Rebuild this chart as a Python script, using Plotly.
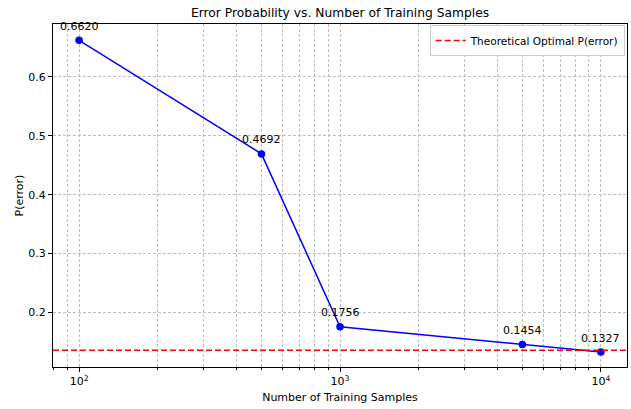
import numpy as np
import plotly.graph_objects as go

# Training-set sizes and measured error probability
n_samples = [100, 500, 1000, 5000, 10000]
p_error = [0.6620, 0.4692, 0.1756, 0.1454, 0.1327]
optimal_p_error = 0.1357

x_tick_vals = [100, 1000, 10000]
x_tick_text = ["10<sup>2</sup>", "10<sup>3</sup>", "10<sup>4</sup>"]
y_tick_vals = [0.2, 0.3, 0.4, 0.5, 0.6]

font_family = "DejaVu Sans"
grid_color = "#bdbdbd"
grid_dash = "3px,2px"

fig = go.Figure()

fig.add_trace(go.Scatter(
    x=n_samples, y=p_error, mode="lines+markers",
    line=dict(color="#0000ff", width=1.5),
    marker=dict(color="#0000ff", size=7.5),
    showlegend=False,
))

# Theoretical optimum as a horizontal dashed line across the axis
fig.add_trace(go.Scatter(
    x=[10 ** 1.9, 10 ** 4.1], y=[optimal_p_error, optimal_p_error], mode="lines",
    line=dict(color="#ff0000", width=1.5, dash="6px,3px"),
    name="Theoretical Optimal P(error)",
))

for xv, yv in zip(n_samples, p_error):
    fig.add_annotation(
        x=np.log10(xv), y=yv, text=f"{yv:.4f}", showarrow=False,
        yshift=14, font=dict(family=font_family, size=11, color="#000000"),
    )

fig.update_layout(
    width=631, height=409,
    margin=dict(l=53, r=4, t=24, b=42),
    paper_bgcolor="white", plot_bgcolor="white",
    font=dict(family=font_family, size=11, color="#000000"),
    title=dict(text="Error Probability vs. Number of Training Samples",
               x=0.539, xanchor="center", y=0.968, yanchor="middle",
               font=dict(size=12.3)),
    legend=dict(x=0.996, y=0.997, xanchor="right", yanchor="top",
                bordercolor="#cccccc", borderwidth=1, bgcolor="rgba(255,255,255,0.8)",
                font=dict(size=10.5), itemwidth=30),
)

fig.update_xaxes(
    type="log", range=[1.9, 4.1],
    tickvals=x_tick_vals, ticktext=x_tick_text,
    ticks="outside", ticklen=4, tickcolor="#000000",
    showline=True, linecolor="#000000", linewidth=1, mirror=True,
    showgrid=True, gridcolor=grid_color, griddash=grid_dash, gridwidth=0.8,
    minor=dict(ticks="outside", ticklen=2, tickcolor="#000000", dtick="D1",
               showgrid=True, gridcolor=grid_color, griddash=grid_dash, gridwidth=0.8),
    zeroline=False,
    title=dict(text="Number of Training Samples", font=dict(size=11), standoff=6),
)

fig.update_yaxes(
    range=[0.1074, 0.6897],
    tickvals=y_tick_vals, ticktext=[f"{v:.1f}" for v in y_tick_vals],
    ticks="outside", ticklen=4, tickcolor="#000000",
    showline=True, linecolor="#000000", linewidth=1, mirror=True,
    showgrid=True, gridcolor=grid_color, griddash=grid_dash, gridwidth=0.8,
    zeroline=False,
    title=dict(text="P(error)", font=dict(size=11), standoff=2),
)

fig.write_html("out.html")
